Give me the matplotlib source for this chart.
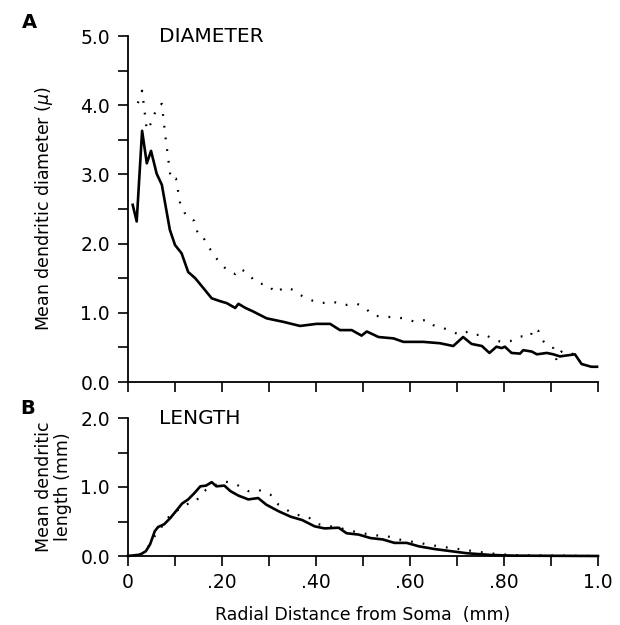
import numpy as np
import matplotlib
matplotlib.use("Agg")
import matplotlib.pyplot as plt

plt.rcParams['font.family'] = ['DejaVu Sans']

# panel A: mean dendritic diameter (microns)
diam_solid_x = [0.010, 0.0185, 0.030, 0.040, 0.049, 0.061, 0.072, 0.089, 0.100, 0.114, 0.128, 0.143,
                0.160, 0.178, 0.195, 0.210, 0.228, 0.235, 0.250, 0.266, 0.295, 0.33, 0.366, 0.401,
                0.43, 0.451, 0.476, 0.497, 0.508, 0.533, 0.565, 0.586, 0.628, 0.664, 0.692, 0.713,
                0.731, 0.753, 0.769, 0.784, 0.795, 0.802, 0.816, 0.834, 0.841, 0.859, 0.870, 0.891,
                0.905, 0.919, 0.951, 0.965, 0.986, 0.998]
diam_solid_y = [2.56, 2.32, 3.63, 3.16, 3.34, 3.01, 2.85, 2.20, 1.98, 1.86, 1.59, 1.50,
                1.36, 1.21, 1.17, 1.14, 1.07, 1.13, 1.07, 1.02, 0.92, 0.87, 0.81, 0.84,
                0.84, 0.75, 0.75, 0.67, 0.73, 0.65, 0.63, 0.58, 0.58, 0.56, 0.52, 0.65,
                0.55, 0.52, 0.42, 0.51, 0.49, 0.51, 0.42, 0.41, 0.46, 0.44, 0.40, 0.42,
                0.40, 0.37, 0.40, 0.26, 0.22, 0.22]

diam_dot_x = [0.021, 0.030, 0.040, 0.050, 0.061, 0.072, 0.079, 0.091, 0.102, 0.111, 0.120, 0.130,
              0.141, 0.150, 0.160, 0.171, 0.185, 0.21, 0.228, 0.238, 0.253, 0.274, 0.299, 0.313,
              0.334, 0.352, 0.373, 0.398, 0.412, 0.437, 0.458, 0.487, 0.504, 0.519, 0.540, 0.561,
              0.586, 0.611, 0.636, 0.650, 0.671, 0.689, 0.706, 0.724, 0.742, 0.760, 0.777, 0.795,
              0.813, 0.834, 0.855, 0.864, 0.873, 0.880, 0.891, 0.905, 0.912, 0.922, 0.933, 0.951,
              0.962]
diam_dot_y = [4.03, 4.21, 3.64, 3.75, 3.96, 4.02, 3.58, 2.93, 2.94, 2.58, 2.45, 2.36,
              2.33, 2.11, 2.09, 1.96, 1.81, 1.62, 1.56, 1.64, 1.58, 1.43, 1.40, 1.29,
              1.37, 1.33, 1.23, 1.16, 1.14, 1.16, 1.11, 1.13, 1.08, 0.97, 0.94, 0.94,
              0.92, 0.87, 0.90, 0.82, 0.78, 0.73, 0.68, 0.73, 0.68, 0.69, 0.61, 0.58,
              0.59, 0.66, 0.65, 0.78, 0.74, 0.62, 0.53, 0.49, 0.31, 0.44, 0.40, 0.41,
              0.29]

# panel B: mean dendritic length (mm)
len_solid_x = [0, 0.026, 0.038, 0.047, 0.057, 0.064, 0.077, 0.09, 0.102, 0.115, 0.128, 0.141,
               0.154, 0.166, 0.178, 0.188, 0.205, 0.218, 0.235, 0.256, 0.277, 0.294, 0.32, 0.346,
               0.371, 0.397, 0.418, 0.448, 0.465, 0.491, 0.516, 0.542, 0.567, 0.593, 0.619, 0.653,
               0.687, 0.721, 0.772, 0.823, 1.0]
len_solid_y = [0, 0.02, 0.07, 0.17, 0.36, 0.42, 0.46, 0.55, 0.65, 0.76, 0.82, 0.91,
               1.01, 1.02, 1.07, 1.01, 1.02, 0.94, 0.875, 0.82, 0.84, 0.745, 0.65, 0.57,
               0.52, 0.43, 0.40, 0.41, 0.33, 0.31, 0.26, 0.24, 0.19, 0.19, 0.14, 0.10,
               0.07, 0.04, 0.015, 0.005, 0]

len_dot_x = [0, 0.02, 0.034, 0.05, 0.06, 0.075, 0.09, 0.105, 0.124, 0.141, 0.155, 0.166,
             0.183, 0.205, 0.222, 0.235, 0.256, 0.277, 0.303, 0.32, 0.354, 0.38, 0.405, 0.448,
             0.49, 0.525, 0.55, 0.576, 0.619, 0.661, 0.704, 0.746, 0.789, 0.832, 1.0]
len_dot_y = [0, 0.01, 0.05, 0.2, 0.33, 0.45, 0.6, 0.66, 0.75, 0.77, 0.88, 0.96,
             1.02, 1.08, 1.06, 1.02, 0.94, 0.96, 0.89, 0.745, 0.60, 0.58, 0.46, 0.41,
             0.34, 0.30, 0.29, 0.24, 0.19, 0.14, 0.10, 0.06, 0.025, 0.01, 0]

x_ticks = np.arange(0, 1.01, 0.1)
x_labels = ["0", "", ".20", "", ".40", "", ".60", "", ".80", "", "1.0"]

fig = plt.figure(figsize=(6.2, 6.25), dpi=100)
axA = fig.add_axes([128/620, 1 - 382/625, 470/620, 346/625])
axB = fig.add_axes([128/620, 1 - 556/625, 470/620, 138/625])

dots = (0, (0.8, 4.5))


def style(ax, ymax):
    for s in ["top", "right"]:
        ax.spines[s].set_visible(False)
    for s in ["left", "bottom"]:
        ax.spines[s].set_linewidth(1.3)
    ax.set_xlim(0, 1.0)
    ax.set_ylim(0, ymax)
    ax.set_xticks(x_ticks)
    yt = np.arange(0, ymax + 0.01, 0.5)
    ax.set_yticks(yt)
    ax.set_yticklabels(["%.1f" % v if abs(v - round(v)) < 1e-6 else "" for v in yt])
    ax.tick_params(direction="out", length=7, width=1.2, labelsize=13.5)
    ax.tick_params(axis="y", pad=6)
    ax.tick_params(axis="x", pad=5)


axA.plot(diam_solid_x, diam_solid_y, color="black", lw=1.9, clip_on=False)
axA.plot(diam_dot_x, diam_dot_y, color="black", lw=1.6, ls=dots, clip_on=False)
style(axA, 5.0)
axA.set_xticklabels([])
axA.set_ylabel("Mean dendritic diameter ($\\mu$)", fontsize=12.5, labelpad=18)
axA.text(0.065, 5.0, "DIAMETER", fontsize=14.5, va="center", ha="left")

axB.plot(len_solid_x, len_solid_y, color="black", lw=1.9, clip_on=False)
axB.plot(len_dot_x, len_dot_y, color="black", lw=1.6, ls=dots, clip_on=False)
style(axB, 2.0)
axB.set_xticklabels(x_labels)
axB.set_ylabel("Mean dendritic\nlength (mm)", fontsize=12.5, labelpad=6, linespacing=1.1)
axB.set_xlabel("Radial Distance from Soma  (mm)", fontsize=12.5, labelpad=10)
axB.text(0.065, 2.0, "LENGTH", fontsize=14.5, va="center", ha="left")

fig.text(22/620, 1 - 22/625, "A", fontsize=14, fontweight="bold", ha="left", va="center")
fig.text(20/620, 1 - 408/625, "B", fontsize=14, fontweight="bold", ha="left", va="center")

fig.savefig("out.png", dpi=100, facecolor="white")
